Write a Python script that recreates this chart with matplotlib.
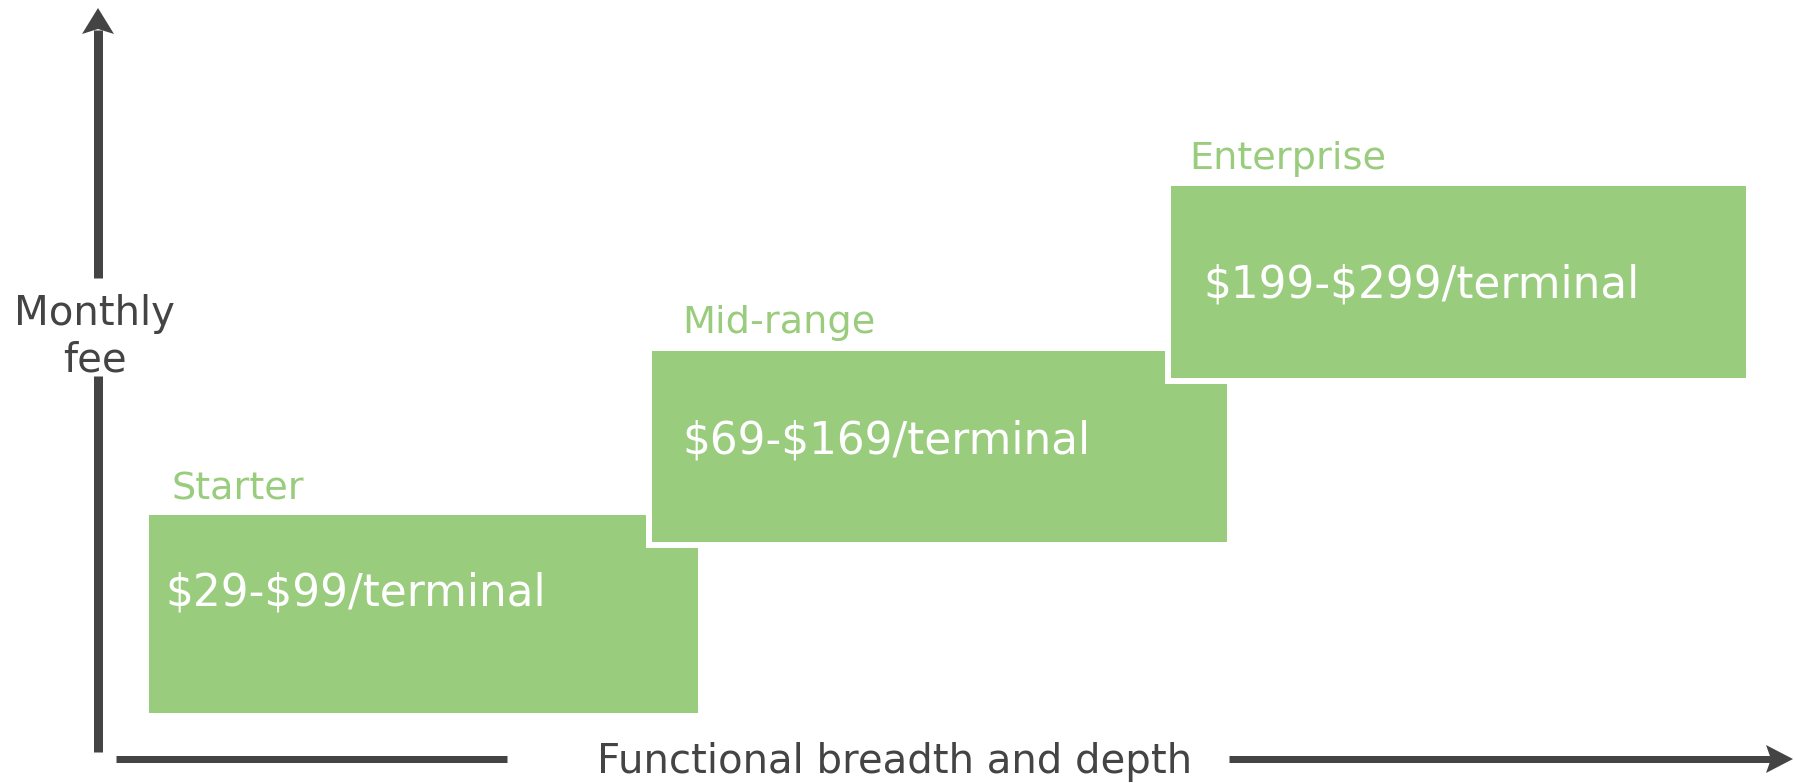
import matplotlib.pyplot as plt
from matplotlib.patches import Rectangle, Polygon

# data
tiers = ['Starter', 'Mid-range', 'Enterprise']
price_low = [29, 69, 199]
price_high = [99, 169, 299]
x_label = 'Functional breadth and depth'
y_label = ['Monthly', 'fee']

# layout (pixel units of the 1795x783 canvas, y grows downwards)
W, H = 1795, 783
box_left = [149, 652, 1171]
box_right = [698, 1227, 1746]
box_top = [515, 351, 186]
box_bottom = [713, 542, 378]
label_x = [171, 682, 1189]
label_base = [500, 333, 169]
price_x = [165, 682, 1203]
price_base = [605, 453, 298]

green = '#99cc7d'
grey = '#444444'
pad = 6  # white gap around each box

plt.rcParams['font.family'] = ['DejaVu Sans']

fig = plt.figure(figsize=(W / 100, H / 100), dpi=100)
ax = fig.add_axes([0, 0, 1, 1])
ax.set_xlim(0, W)
ax.set_ylim(H, 0)
ax.axis('off')

# tier boxes, each one drawn over the previous with a white border
for i, name in enumerate(tiers):
    x0, x1 = box_left[i], box_right[i]
    y0, y1 = box_top[i], box_bottom[i]
    if i > 0:
        ax.add_patch(Rectangle((x0 - pad, y0 - pad), x1 - x0 + 2 * pad, y1 - y0 + 2 * pad,
                               facecolor='white', edgecolor='none', zorder=2 * i))
    ax.add_patch(Rectangle((x0, y0), x1 - x0, y1 - y0,
                           facecolor=green, edgecolor='none', zorder=2 * i + 1))
    ax.text(label_x[i], label_base[i], name, color=green, fontsize=27.5,
            ha='left', va='baseline', zorder=10)
    ax.text(price_x[i], price_base[i], f'\\${price_low[i]}-\\${price_high[i]}/terminal',
            color='white', fontsize=31.5, ha='left', va='baseline', zorder=10)

# y axis: arrow broken by the label
lw = 9 * 72 / 100
ax.plot([98, 98], [752, 376], color=grey, lw=lw, solid_capstyle='butt')
ax.plot([98, 98], [278, 30], color=grey, lw=lw, solid_capstyle='butt')
ax.add_patch(Polygon([(98, 8), (82, 34), (98, 29), (114, 34)], closed=True,
                     facecolor=grey, edgecolor='none'))
ax.text(95, 325, y_label[0], color=grey, fontsize=29, ha='center', va='baseline')
ax.text(95, 372, y_label[1], color=grey, fontsize=29, ha='center', va='baseline')

# x axis: arrow broken by the label
lw_x = 7 * 72 / 100
ax.plot([116, 507], [759, 759], color=grey, lw=lw_x, solid_capstyle='butt')
ax.plot([1229, 1772], [759, 759], color=grey, lw=lw_x, solid_capstyle='butt')
ax.add_patch(Polygon([(1793, 759), (1766, 745), (1771, 759), (1766, 773)], closed=True,
                     facecolor=grey, edgecolor='none'))
ax.text(895, 773, x_label, color=grey, fontsize=29, ha='center', va='baseline')

fig.savefig('out.png', dpi=100, facecolor='white')
